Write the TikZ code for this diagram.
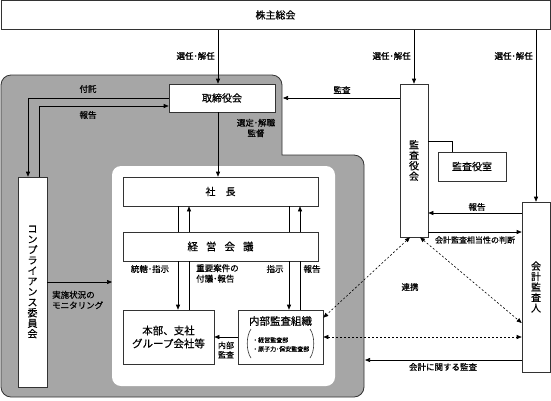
\documentclass[tikz,border=0pt]{standalone}
\usepackage{fontspec}
\setmainfont{Noto Sans CJK JP}[FakeBold=0.6]
\usetikzlibrary{arrows.meta}
\definecolor{regfill}{HTML}{A6A6A6}
\definecolor{linec}{HTML}{333333}
\tikzset{
  box/.style={draw=linec, fill=white, line width=0.6pt, inner sep=0pt, align=center, font=\fontsize{10}{12}\selectfont},
  lbl/.style={inner sep=0pt, align=center, font=\fontsize{8.5}{10.5}\selectfont},
  conn/.style={draw=black, line width=0.6pt},
  arr/.style={conn, -{Triangle[length=5pt,width=4pt]}},
  darr/.style={conn, dash pattern=on 2pt off 2pt, {Triangle[length=5pt,width=4pt]}-{Triangle[length=5pt,width=4pt]}},
  vtxt/.style={font=\fontsize{10}{10.5}\selectfont}
}
\begin{document}
\begin{tikzpicture}[x=1pt,y=-1pt]
\useasboundingbox (0,0) rectangle (551,400);
\fill[white] (0,0) rectangle (551,400);
% gray region (board area)
\draw[fill=regfill, draw=linec, line width=0.8pt]
  (1,85) .. controls (1,79.5) and (5.5,75) .. (11,75) -- (272,75)
  .. controls (277.5,75) and (282,79.5) .. (282,85) -- (282,155) -- (354,155)
  .. controls (359.5,155) and (364,159.5) .. (364,165) -- (364,387)
  .. controls (364,392.5) and (359.5,397) .. (354,397) -- (11,397)
  .. controls (5.5,397) and (1,392.5) .. (1,387) -- cycle;
% white region (executive area)
\fill[white, rounded corners=9pt] (112,166) rectangle (335,386);

% free ends
\coordinate (grayE1) at (283,98);
\coordinate (grayE2) at (365,360);
\coordinate (whiteW) at (112,282);

% nodes
\node[box, minimum width=549pt, minimum height=29pt] (soukai) at (275.5,15) {株主総会};
\node[box, minimum width=106pt, minimum height=28pt] (torishimari) at (222,98) {取締役会};
\node[box, minimum width=28pt, minimum height=153pt] (kansayakukai) at (414,160.5) {};
\node[vtxt] (kansayakukaiT) at (kansayakukai.center) [align=center] {監\\査\\役\\会};
\node[box, minimum width=68pt, minimum height=29pt] (kansashitsu) at (472,166.5) {監査役室};
\node[box, minimum width=28pt, minimum height=170pt] (kaikei) at (536,287) {};
\node[vtxt] (kaikeiT) at (kaikei.center) [align=center] {会\\計\\監\\査\\人};
\node[box, minimum width=29pt, minimum height=210pt] (compliance) at (32.5,282) {};
\node[vtxt] (complianceT) at (compliance.center) [align=center] {コ\\ン\\プ\\ラ\\イ\\ア\\ン\\ス\\委\\員\\会};
\node[box, minimum width=195pt, minimum height=29pt] (shacho) at (220.5,191.5) {社\hspace{10pt}長};
\node[box, minimum width=195pt, minimum height=29pt, font=\fontsize{10.5}{12}\selectfont] (keiei) at (220.5,246.5) {経\hspace{8pt}営\hspace{8pt}会\hspace{8pt}議};
\node[box, minimum width=91pt, minimum height=54pt, font=\fontsize{10.5}{13}\selectfont] (honbu) at (168.5,337) {本部、支社\\グループ会社等};
\node[box, minimum width=85pt, minimum height=54pt] (naibu) at (280.5,337) {};
\node[font=\fontsize{10.5}{12}\selectfont, inner sep=0pt] (naibuT) at (280.5,321) {内部監査組織};
\node[anchor=west, inner sep=0pt, font=\fontsize{6}{7}\selectfont] (naibuL1) at (252,340) {・経営監査部};
\node[anchor=west, inner sep=0pt, font=\fontsize{6}{7}\selectfont] (naibuL2) at (252,349) {・原子力･保安監査部};
\draw[linec, line width=0.6pt] (251,329) .. controls (246,336) and (246,351) .. (251,358);
\draw[linec, line width=0.6pt] (310,329) .. controls (315,336) and (315,351) .. (310,358);

% shareholders' meeting connectors
\draw[arr] (218,0 |- soukai.south) -- (218,0 |- torishimari.north);
\draw[arr] (kansayakukai.north |- soukai.south) -- (kansayakukai.north);
\draw[arr] (kaikei.north |- soukai.south) -- (kaikei.north);
\node[lbl, anchor=east] (sen1) at (215,56) {選任･解任};
\node[lbl, anchor=east] (sen2) at (411,56) {選任･解任};
\node[lbl, anchor=east] (sen3) at (533,56) {選任･解任};

% board -> president
\draw[arr] (218,0 |- torishimari.south) -- (218,0 |- shacho.north);
\node[lbl] (sentei) at (256,128) {選定･解職\\監督};

% board <-> compliance
\draw[arr] (torishimari.west) -| (28,0 |- compliance.north);
\draw[arr] (39,0 |- compliance.north) |- (torishimari.west |- 0,106);
\node[lbl] (futaku) at (88,89) {付託};
\node[lbl] (hokoku1) at (88,115) {報告};

% compliance monitoring
\draw[arr] (compliance.east) -- (whiteW);
\node[lbl, anchor=west, align=left] (monitor) at (52,300) {実施状況の\\モニタリング};

% audit board
\draw[arr] (kansayakukai.west |- 0,98) -- (grayE1);
\node[lbl] (kansa1) at (342,90) {監査};
\draw[conn] (kansayakukai.east |- 0,141) -| (452,0 |- kansashitsu.north);
\draw[arr] (kaikei.west |- 0,213) -- (kansayakukai.east |- 0,213);
\node[lbl] (hokoku2) at (477,207) {報告};
\draw[arr] (kansayakukai.east |- 0,232) -- (kaikei.west |- 0,232);
\node[lbl, font=\fontsize{8}{10}\selectfont] (handan) at (475,240) {会計監査相当性の判断};
\draw[darr] ([xshift=-4pt]kansayakukai.south) -- ([yshift=-8pt]naibu.north east);
\draw[darr] ([xshift=6pt]kansayakukai.south) -- (kaikei.west |- 0,323);
\draw[darr] (naibu.east) -- (kaikei.west |- naibu.east);
\node[lbl] (renkei) at (410,287) {連携};
\draw[arr] (kaikei.west |- grayE2) -- (grayE2);
\node[lbl] (kaikeikansa) at (443,367) {会計に関する監査};

% president / management meeting / divisions
\draw[conn] (178,0 |- shacho.south) -- (178,0 |- keiei.north);
\draw[arr] (178,0 |- keiei.south) -- (178,0 |- honbu.north);
\draw[conn] (189,0 |- honbu.north) -- (189,0 |- keiei.south);
\draw[arr] (189,0 |- keiei.north) -- (189,0 |- shacho.south);
\draw[conn] (289,0 |- shacho.south) -- (289,0 |- keiei.north);
\draw[arr] (289,0 |- keiei.south) -- (289,0 |- naibu.north);
\draw[conn] (300,0 |- naibu.north) -- (300,0 |- keiei.south);
\draw[arr] (300,0 |- keiei.north) -- (300,0 |- shacho.south);
\node[lbl] (tokatsu) at (150,269) {統轄･指示};
\node[lbl, anchor=north west, align=left] (juyo) at (196,264) {重要案件の\\付議･報告};
\node[lbl] (shiji) at (275,269) {指示};
\node[lbl] (hokoku3) at (312,269) {報告};

% internal audit
\draw[arr] (naibu.west) -- (honbu.east);
\node[lbl, font=\fontsize{8}{9.5}\selectfont] (naibukansa) at (226,350) {内部\\監査};
\end{tikzpicture}
\end{document}
